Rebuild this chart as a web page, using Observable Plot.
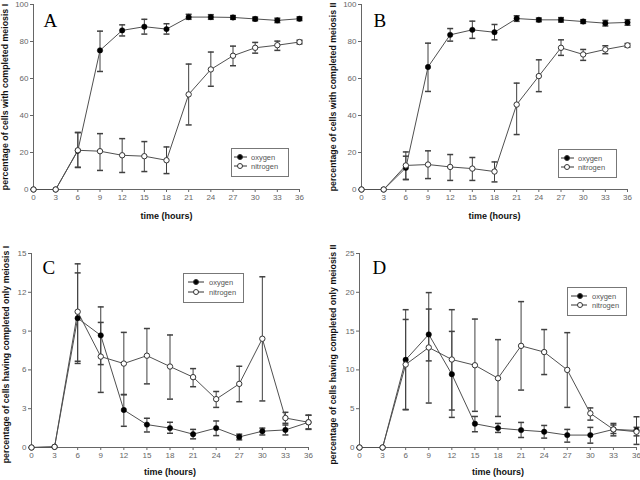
<!DOCTYPE html>
<html>
<head>
<meta charset="utf-8">
<script src="https://cdn.jsdelivr.net/npm/d3@7"></script>
<script src="https://cdn.jsdelivr.net/npm/@observablehq/plot@0.6"></script>
<style>
  html, body { margin: 0; padding: 0; background: white; }
  #wrap { position: relative; width: 640px; height: 480px; overflow: hidden; background: white; }
  .panel { position: absolute; width: 320px; height: 240px; }
</style>
</head>
<body>
<div id="wrap"></div>
<script>
// ---------- data ----------
const times = [0, 3, 6, 9, 12, 15, 18, 21, 24, 27, 30, 33, 36];
const xTicks = [0, 3, 6, 9, 12, 15, 18, 21, 24, 27, 30, 33, 36];

// Panel A: completed meiosis I
const aOxy   = [0, 0, 21.0, 75.2, 86.0, 88.0, 86.7, 93.2, 93.2, 93.0, 92.2, 91.4, 92.3];
const aOxyLo = [null, null, 12.0, 63.8, 83.0, 84.0, 84.0, 92.0, 92.0, 92.0, 91.2, 90.2, 91.3];
const aOxyHi = [null, null, 30.8, 85.6, 89.0, 92.0, 89.6, 94.7, 94.5, 94.0, 93.2, 92.6, 93.3];
const aNit   = [0, 0, 21.2, 20.7, 18.5, 18.0, 15.8, 51.4, 64.9, 72.3, 76.6, 78.0, 79.7];
const aNitLo = [null, null, 11.9, 10.3, 9.2, 9.7, 8.6, 34.9, 55.8, 66.9, 73.7, 75.2, 78.7];
const aNitHi = [null, null, 30.8, 30.2, 27.5, 25.9, 23.0, 67.8, 74.3, 77.5, 79.5, 80.2, 80.7];
const aTicks = [0, 20, 40, 60, 80, 100];

// Panel B: completed meiosis II
const bOxy   = [0, 0, 11.7, 66.2, 83.6, 86.3, 85.0, 92.4, 91.7, 91.7, 90.8, 89.9, 90.3];
const bOxyLo = [null, null, 5.4, 53.0, 80.2, 81.7, 80.9, 90.9, 90.7, 90.5, 89.8, 88.4, 88.8];
const bOxyHi = [null, null, 18.0, 79.1, 87.0, 91.0, 89.2, 93.9, 92.7, 92.9, 91.8, 91.4, 91.8];
const bNit   = [0, 0, 13.0, 13.5, 12.2, 11.3, 9.7, 45.9, 61.3, 76.6, 73.0, 75.7, 77.9];
const bNitLo = [null, null, 5.4, 5.9, 4.9, 4.9, 4.1, 29.7, 52.9, 72.5, 69.8, 73.4, 76.9];
const bNitHi = [null, null, 20.3, 20.9, 18.9, 17.3, 14.9, 57.5, 70.1, 80.9, 75.7, 77.7, 78.9];
const bTicks = [0, 20, 40, 60, 80, 100];

// Panel C: only meiosis I
const cOxy   = [0, 0.05, 10.0, 8.67, 2.9, 1.77, 1.5, 1.03, 1.5, 0.82, 1.26, 1.36, 1.95];
const cOxyLo = [null, null, 6.67, 6.41, 1.64, 1.2, 1.1, 0.67, 0.92, 0.59, 0.97, 0.97, 1.4];
const cOxyHi = [null, null, 13.5, 10.87, 4.1, 2.26, 1.95, 1.4, 2.05, 1.03, 1.5, 1.74, 2.5];
const cNit   = [0, 0.05, 10.5, 7.03, 6.49, 7.1, 6.26, 5.44, 3.74, 4.92, 8.41, 2.28, 1.95];
const cNitLo = [null, null, 6.5, 4.26, 4.08, 4.92, 3.74, 4.7, 3.1, 3.54, 3.6, 1.87, 1.44];
const cNitHi = [null, null, 14.2, 9.67, 8.9, 9.2, 8.7, 6.1, 4.33, 6.28, 13.2, 2.72, 2.49];
const cTicks = [0, 3, 6, 9, 12, 15];

// Panel D: only meiosis II
const dOxy   = [0, 0, 11.3, 14.57, 9.44, 3.06, 2.5, 2.24, 2.03, 1.6, 1.6, 2.33, 2.2];
const dOxyLo = [null, null, 4.87, 11.16, 3.88, 2.03, 1.94, 1.29, 1.21, 0.69, 0.56, 1.5, 0.4];
const dOxyHi = [null, null, 17.76, 17.84, 14.96, 4.0, 3.1, 3.23, 2.84, 2.33, 2.59, 3.1, 3.96];
const dNit   = [0, 0, 10.69, 12.89, 11.34, 10.6, 8.92, 13.1, 12.3, 10.0, 4.4, 2.33, 2.03];
const dNitLo = [null, null, 4.9, 5.73, 4.83, 4.66, 4.0, 7.4, 9.4, 5.17, 3.53, 1.8, 1.5];
const dNitHi = [null, null, 16.5, 19.96, 17.76, 16.55, 13.9, 18.8, 15.2, 14.8, 5.1, 2.9, 2.6];
const dTicks = [0, 5, 10, 15, 20, 25];

const seriesNames = ["oxygen", "nitrogen"];
const xLabel = "time (hours)";
const yLabelA = "percentage of cells with completed meiosis I";
const yLabelB = "percentage of cells with completed meiosis II";
const yLabelC = "percentage of cells having completed only meiosis I";
const yLabelD = "percentage of cells having completed only meiosis II";
const letters = ["A", "B", "C", "D"];

// ---------- drawing ----------
const tickFont = "'Liberation Sans Narrow', 'Liberation Sans', Arial, sans-serif";
const labelFont = "'Liberation Sans', Arial, sans-serif";
const serif = "'Liberation Serif', 'Times New Roman', serif";
const lineColor = "#505050";
const barColor = "#404040";

const cap = { draw(ctx) { ctx.moveTo(-3, 0); ctx.lineTo(3, 0); } };

function rows(oxy, oxyLo, oxyHi, nit, nitLo, nitHi) {
  const out = [];
  times.forEach((t, i) => out.push({t, v: oxy[i], lo: oxyLo[i], hi: oxyHi[i], s: "oxygen"}));
  times.forEach((t, i) => out.push({t, v: nit[i], lo: nitLo[i], hi: nitHi[i], s: "nitrogen"}));
  return out;
}

function panel(cfg) {
  const data = rows(...cfg.data);
  const oxy = data.filter(d => d.s === "oxygen");
  const nit = data.filter(d => d.s === "nitrogen");
  const err = data.filter(d => d.lo != null);
  const ymax = cfg.yTicks[cfg.yTicks.length - 1];
  return Plot.plot({
    width: 320, height: 240,
    marginLeft: cfg.m[0], marginRight: cfg.m[1], marginTop: cfg.m[2], marginBottom: cfg.m[3],
    style: {fontFamily: tickFont, fontSize: "8px", color: "#666", background: "white", overflow: "visible"},
    x: {domain: [0, 36], ticks: xTicks, tickSize: 3, tickPadding: 2, label: null},
    y: {domain: [0, ymax], ticks: cfg.yTicks, tickSize: 3, tickPadding: 2, label: null},
    marks: [
      Plot.ruleX([0], {stroke: "#666"}),
      Plot.ruleY([0], {stroke: "#666"}),
      Plot.ruleX(err, {x: "t", y1: "lo", y2: "hi", stroke: barColor, strokeWidth: 1}),
      Plot.dot(err, {x: "t", y: "lo", symbol: cap, stroke: barColor, fill: "none", r: 3}),
      Plot.dot(err, {x: "t", y: "hi", symbol: cap, stroke: barColor, fill: "none", r: 3}),
      Plot.line(oxy, {x: "t", y: "v", stroke: lineColor, strokeWidth: 1}),
      Plot.line(nit, {x: "t", y: "v", stroke: lineColor, strokeWidth: 1}),
      Plot.dot(oxy, {x: "t", y: "v", r: 2.7, fill: "black", stroke: "black", strokeWidth: 0.5}),
      Plot.dot(nit, {x: "t", y: "v", r: 2.7, fill: "white", stroke: "#333", strokeWidth: 1}),
      Plot.text([cfg.letter], {text: d => d, frameAnchor: "top-left", dx: cfg.letterPos[0], dy: cfg.letterPos[1],
        textAnchor: "start", lineAnchor: "top", fontSize: 19, fontFamily: serif, fill: "black"}),
      Plot.text([xLabel], {text: d => d, frameAnchor: "bottom", dy: cfg.xLabDy, textAnchor: "middle", lineAnchor: "middle",
        fontSize: 9, fontWeight: "bold", fontFamily: labelFont, fill: "#111"}),
      Plot.text([cfg.yLabel], {text: d => d, frameAnchor: "left", dx: cfg.yLabDx, dy: cfg.yLabDy, rotate: -90,
        textAnchor: "middle", lineAnchor: "middle",
        fontSize: 8.8, fontWeight: "bold", fontFamily: labelFont, fill: "#111"})
    ]
  });
}

// legend drawn inside the panel's own SVG (panel-local coordinates)
function addLegend(svgNode, box) {
  const [left, top, w, h, x1, x2, mx, tx, r1, r2] = box;
  const g = d3.select(svgNode).append("g").attr("transform", `translate(${left},${top})`);
  g.append("rect").attr("x", 0.5).attr("y", 0.5).attr("width", w - 1).attr("height", h - 1)
    .attr("fill", "white").attr("stroke", "#777");
  [r1, r2].forEach((ry, i) => {
    g.append("line").attr("x1", x1).attr("x2", x2).attr("y1", ry).attr("y2", ry).attr("stroke", "#333");
    g.append("circle").attr("cx", mx).attr("cy", ry).attr("r", 2.5)
      .attr("fill", i === 0 ? "black" : "white").attr("stroke", "#333");
    g.append("text").attr("x", tx).attr("y", ry).attr("dy", "0.35em")
      .attr("text-anchor", "start")
      .attr("font-family", labelFont).attr("font-size", 7.5).attr("fill", "#555")
      .text(seriesNames[i]);
  });
}

const wrap = document.getElementById("wrap");
const panels = [
  {pos: [0, 0], m: [33, 21, 4, 51], yTicks: aTicks, data: [aOxy, aOxyLo, aOxyHi, aNit, aNitLo, aNitHi],
   letter: letters[0], letterPos: [10, 9], xLabDy: 27, yLabDx: -28, yLabDy: 0, yLabel: yLabelA,
   leg: [231, 148, 58, 29, 3, 16, 9, 20, 9, 18]},
  {pos: [320, 0], m: [41, 13, 4, 51], yTicks: bTicks, data: [bOxy, bOxyLo, bOxyHi, bNit, bNitLo, bNitHi],
   letter: letters[1], letterPos: [12, 9], xLabDy: 27, yLabDx: -28, yLabDy: 0, yLabel: yLabelB,
   leg: [238, 149, 59, 29, 3, 16, 9, 20, 9, 18]},
  {pos: [0, 240], m: [31, 12, 13, 33], yTicks: cTicks, data: [cOxy, cOxyLo, cOxyHi, cNit, cNitLo, cNitHi],
   letter: letters[2], letterPos: [11, 7], xLabDy: 25, yLabDx: -25, yLabDy: 4, yLabel: yLabelC,
   leg: [183, 33, 61, 30, 5, 21, 13, 26, 9, 19]},
  {pos: [320, 240], m: [39, 4, 13, 33], yTicks: dTicks, data: [dOxy, dOxyLo, dOxyHi, dNit, dNitLo, dNitHi],
   letter: letters[3], letterPos: [13, 7], xLabDy: 25, yLabDx: -26, yLabDy: 4, yLabel: yLabelD,
   leg: [247, 47, 60, 29, 4, 20, 13, 25, 9, 18]}
];

panels.forEach(cfg => {
  const div = document.createElement("div");
  div.className = "panel";
  div.style.left = cfg.pos[0] + "px";
  div.style.top = cfg.pos[1] + "px";
  const node = panel(cfg);
  addLegend(node, cfg.leg);
  div.appendChild(node);
  wrap.appendChild(div);
});
</script>
</body>
</html>
